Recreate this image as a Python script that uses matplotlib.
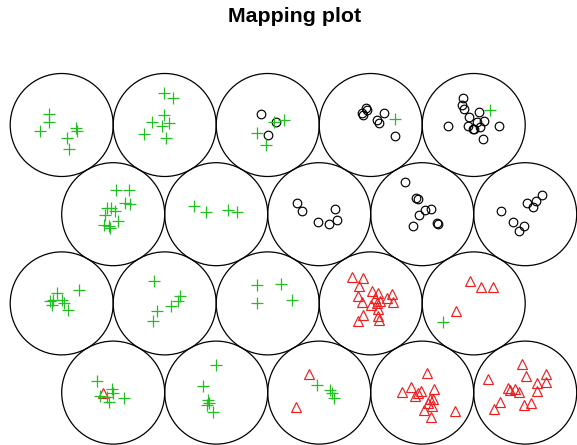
import numpy as np
import matplotlib
matplotlib.use("Agg")
import matplotlib.pyplot as plt
from matplotlib.patches import Circle

# ---- SOM grid (hexagonal 5 x 4), unit numbering kohonen-style (bottom row first)
xdim, ydim = 5, 4

# ---- Class 1: open black circles (unit, dx, dy offsets within unit, grid units)
c1_unit = [18]*3 + [19]*8 + [20]*14 + [13]*6 + [14]*9 + [15]*8
c1_dx = [-0.068, 0.078, 0.003,
         -0.049, -0.033, -0.087, -0.075, 0.132, 0.064, 0.078, 0.233,
         -0.104, -0.114, -0.094, -0.046, 0.054, -0.247, -0.058, -0.010, 0.006, 0.035, 0.064, 0.097, 0.246, 0.087,
         -0.216, -0.164, -0.009, 0.098, 0.153, 0.173,
         -0.167, -0.063, -0.038, 0.027, -0.028, 0.083, -0.086, 0.147, 0.153,
         -0.238, -0.116, -0.057, -0.009, 0.020, 0.079, 0.108, 0.166]
c1_dy = [0.104, 0.032, -0.097,
         0.168, 0.146, 0.114, 0.097, 0.119, 0.049, 0.017, -0.107,
         0.262, 0.191, 0.158, 0.081, 0.123, -0.010, -0.007, -0.036, -0.042, 0.032, -0.017, 0.042, -0.007, -0.133,
         0.109, 0.028, -0.079, -0.092, 0.050, -0.056,
         0.313, 0.157, 0.145, 0.044, -0.005, 0.053, -0.115, -0.088, -0.095,
         0.034, -0.079, -0.160, -0.117, 0.106, 0.067, 0.125, 0.183]

# ---- Class 2: red triangles
c2_unit = [9]*19 + [10]*4 + [1] + [3]*2 + [4]*14 + [5]*15
c2_dx = [-0.179, -0.072, -0.114, 0.010, 0.068, -0.126, -0.087, 0.003, 0.042, 0.093, 0.155, 0.074, -0.072, -0.120, 0.068, 0.083, 0.064, 0.204, 0.214,
         -0.036, 0.071, 0.190, -0.172,
         -0.096,
         -0.099, -0.225,
         0.044, -0.199, -0.112, -0.070, -0.038, -0.012, 0.117, 0.076, 0.108, 0.053, 0.092, 0.020, 0.083, 0.318,
         -0.358, -0.034, 0.005, -0.164, -0.148, -0.099, -0.057, -0.245, -0.300, -0.012, 0.053, 0.112, 0.117, 0.202, 0.199]
c2_dy = [0.253, 0.247, 0.166, 0.117, 0.101, 0.069, 0.011, -0.018, 0.052, 0.026, 0.052, -0.054, -0.110, -0.168, -0.125, -0.158, 0.004, 0.091, 0.011,
         0.215, 0.156, 0.156, -0.077,
         -0.001,
         0.178, -0.140,
         0.187, 0.006, 0.054, -0.033, -0.001, 0.016, 0.038, -0.059, -0.065, -0.098, -0.130, -0.169, -0.237, -0.178,
         0.129, 0.275, 0.161, 0.048, 0.025, 0.032, 0.006, -0.091, -0.162, -0.123, -0.104, 0.090, 0.016, 0.178, 0.103]

# ---- Class 3: green plus signs
c3_unit = [16]*7 + [17]*8 + [18]*4 + [19] + [20] + [11]*12 + [12]*4 + [6]*8 + [7]*6 + [8]*4 + [10] + [1]*7 + [2]*6 + [3]*4
c3_dx = [-0.123, -0.120, -0.208, 0.142, 0.149, 0.049, 0.071,
         -0.010, 0.081, -0.010, -0.126, -0.023, 0.045, -0.198, 0.013,
         0.155, 0.061, -0.104, -0.019,
         0.233,
         0.158,
         0.027, 0.150, 0.115, 0.163, -0.057, -0.021, 0.017, -0.080, 0.044, -0.086, -0.031, -0.044,
         -0.216, -0.099, 0.115, 0.199,
         -0.043, -0.082, -0.091, 0.000, 0.022, 0.064, 0.168, -0.114,
         -0.104, 0.149, 0.126, 0.058, -0.078, -0.117,
         -0.107, 0.126, -0.101, 0.239,
         -0.295,
         -0.160, -0.128, -0.015, 0.001, -0.038, 0.105, -0.057,
         -0.002, -0.131, -0.077, -0.092, -0.067, -0.028,
         -0.024, 0.108, 0.147, 0.127]
c3_dy = [0.104, 0.026, -0.058, -0.032, -0.058, -0.123, -0.233,
         0.308, 0.265, 0.097, 0.026, -0.007, 0.017, -0.090, -0.129,
         0.051, 0.032, -0.078, -0.197,
         0.055,
         0.146,
         0.235, 0.235, 0.109, 0.102, 0.060, 0.060, 0.034, -0.005, -0.063, -0.108, -0.134, -0.117,
         0.083, 0.021, 0.038, 0.021,
         0.101, 0.036, -0.018, 0.036, 0.004, -0.061, 0.133, 0.020,
         0.220, 0.075, 0.026, -0.028, -0.071, -0.174,
         0.182, 0.188, 0.001, 0.030,
         -0.181,
         0.113, -0.033, 0.032, -0.007, -0.091, -0.055, -0.040,
         0.265, 0.064, -0.075, -0.120, -0.098, -0.185,
         0.074, 0.025, -0.050, -0.007]

# ---- grid unit centres (hexagonal)
ux, uy = [], []
for j in range(ydim):
    for i in range(xdim):
        ux.append(i + 1 + (0.5 if j % 2 == 0 else 0.0))
        uy.append((j + 1) * np.sqrt(3) / 2)
ux = np.array(ux); uy = np.array(uy)

def positions(units, dx, dy):
    u = np.array(units) - 1
    return ux[u] + np.array(dx), uy[u] + np.array(dy)

W, H = 577, 445
fig = plt.figure(figsize=(W / 100, H / 100), dpi=100)
ax = fig.add_axes([0, 0, 1, 1])
scale = 103.0  # pixels per grid unit
x0 = 1 - 61.7 / scale
y1 = 4 * np.sqrt(3) / 2 + 125 / scale
ax.set_xlim(x0, x0 + W / scale)
ax.set_ylim(y1 - H / scale, y1)
ax.axis("off")

for x, y in zip(ux, uy):
    ax.add_patch(Circle((x, y), 0.5, fill=False, edgecolor="black", lw=0.9))

x1, y1p = positions(c1_unit, c1_dx, c1_dy)
x2, y2p = positions(c2_unit, c2_dx, c2_dy)
x3, y3p = positions(c3_unit, c3_dx, c3_dy)

ax.plot(x1, y1p, linestyle="none", marker="o", ms=6.2, mfc="none", mec="black", mew=0.85)
ax.plot(x2, y2p, linestyle="none", marker="^", ms=7.6, mfc="none", mec="#F01E1E", mew=0.85)
ax.plot(x3, y3p, linestyle="none", marker="+", ms=8.0, mec="#20C020", mew=0.9)

fig.text(294.5 / W, 1 - 17 / H, "Mapping plot", ha="center", va="center",
         fontsize=15.4, fontweight="bold", family="Liberation Sans")

fig.savefig("out.png", dpi=100)
